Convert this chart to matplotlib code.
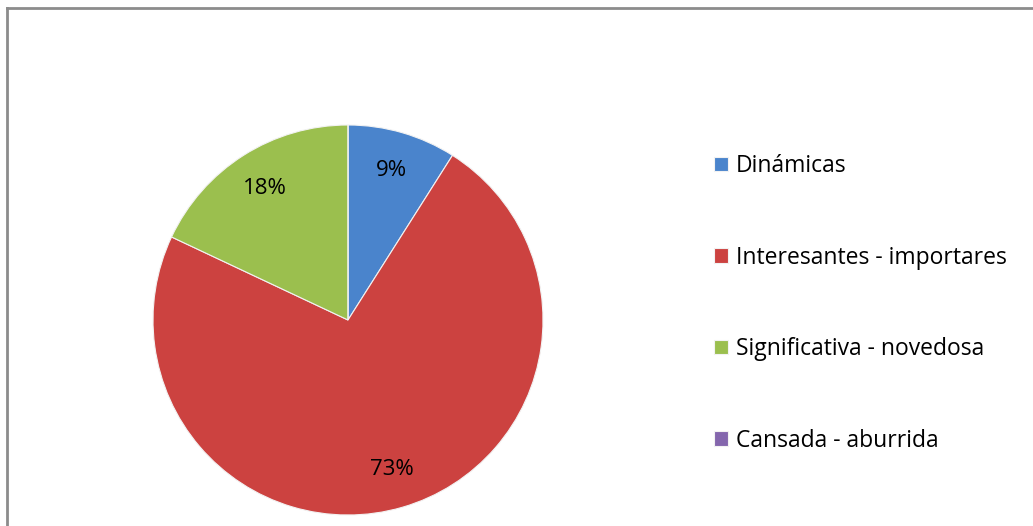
import matplotlib.pyplot as plt
from matplotlib.lines import Line2D

categories = ["Dinámicas", "Interesantes - importares",
              "Significativa - novedosa", "Cansada - aburrida"]
percent = [9, 73, 18, 0]
colors = ["#4a84cc", "#cc4240", "#9bbf4e", "#8466ad"]

W, H = 1033, 526
fig = plt.figure(figsize=(W / 100, H / 100), dpi=100)
plt.rcParams['font.family'] = ['Open Sans', 'DejaVu Sans']

# chart frame: only the top and left edges fall inside the image
x0, y0 = 7 / W, (H - 8) / H
fig.add_artist(Line2D([x0, 1.05], [y0, y0], color="#8c8c8c", linewidth=2))
fig.add_artist(Line2D([x0, x0], [y0, -0.05], color="#8c8c8c", linewidth=2))

# pie axes: centre (348, 320) px, radius 195 px
cx, cy, r = 348, 320, 195
ax = fig.add_axes([(cx - r) / W, (H - cy - r) / H, 2 * r / W, 2 * r / H])


def fmt(p):
    return f"{p:.0f}%" if p > 0.5 else ""


wedges, texts, autotexts = ax.pie(
    percent, colors=colors, startangle=90, counterclock=False,
    autopct=fmt, pctdistance=0.8,
    wedgeprops=dict(edgecolor="#f2f2f2", linewidth=0.8),
    textprops=dict(fontsize=16, color="black"))
ax.set_xlim(-1, 1)
ax.set_ylim(-1, 1)
ax.set_aspect("equal")

leg = fig.legend(wedges, categories, loc="upper left",
                 bbox_to_anchor=(714 / W, (H - 154) / H),
                 frameon=False, fontsize=16.5,
                 handlelength=0.6, handleheight=0.6, handletextpad=0.35,
                 labelspacing=2.95, borderpad=0, borderaxespad=0)

fig.savefig("out.png", dpi=100)
